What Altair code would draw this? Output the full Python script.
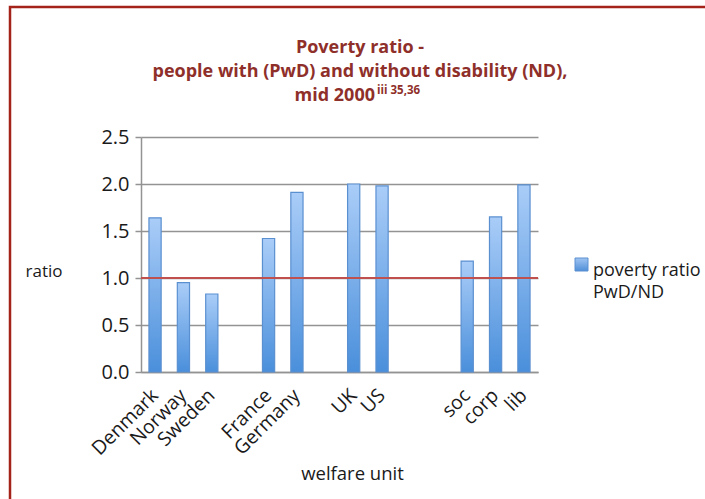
import altair as alt
import pandas as pd

# Welfare units in display order; "gap*" entries are empty slots separating the groups
units = ["Denmark", "Norway", "Sweden", "gap1", "France", "Germany", "gap2",
         "UK", "US", "gap3", "gap4", "soc", "corp", "lib"]
bar_units = ["Denmark", "Norway", "Sweden", "France", "Germany",
             "UK", "US", "soc", "corp", "lib"]
ratios = [1.64, 0.95, 0.83, 1.42, 1.91, 2.00, 1.98, 1.18, 1.65, 1.99]
y_ticks = [0.0, 0.5, 1.0, 1.5, 2.0, 2.5]
reference_level = [1.0]
title_lines = ["Poverty ratio -", "people with (PwD) and without disability (ND),", "mid 2000"]
title_note = "iii 35,36"
legend_lines = ["poverty ratio", "PwD/ND"]

df = pd.DataFrame({"unit": bar_units, "ratio": ratios})
ref = pd.DataFrame({"level": reference_level})

FONT = "Open Sans"
DARK_RED = "#8F2F2A"
W, H = 397, 235
PAD_L, PAD_T = 141, 137
TITLE_CX = 219  # horizontal centre of the title block, relative to the plot

bar_fill = alt.LinearGradient(
    gradient="linear",
    stops=[alt.GradientStop(color="#AACDF8", offset=0),
           alt.GradientStop(color="#4A8FDB", offset=1)],
    x1=0, x2=0, y1=0, y2=1,
)

x_enc = alt.X(
    "unit:N",
    sort=units,
    scale=alt.Scale(domain=units, paddingInner=0.57, paddingOuter=0.28),
    axis=alt.Axis(
        title="welfare unit",
        labelExpr="substring(datum.label, 0, 3) == 'gap' ? '' : datum.label",
        labelAngle=-45, labelAlign="right", labelBaseline="middle",
        labelPadding=20, ticks=False, labelFontSize=19.5,
        domainColor="#939393", domainWidth=1.5,
        titleX=211, titleY=101, titleBaseline="middle",
        titleFontWeight="normal", titleFontSize=18.5,
    ),
)

y_scale = alt.Scale(domain=[0, 2.5], nice=False)

bars = alt.Chart(df).mark_bar(
    fill=bar_fill, stroke="#5B90D0", strokeWidth=1.2
).encode(
    x=x_enc,
    y=alt.Y(
        "ratio:Q", scale=y_scale,
        axis=alt.Axis(
            title="ratio", values=y_ticks, format=".1f",
            titleAngle=0, titleX=-116, titleY=134, titleAlign="left",
            titleBaseline="middle", titleFontWeight="normal", titleFontSize=17,
            tickSize=6, tickColor="#939393", tickWidth=1.5,
            gridColor="#939393", gridWidth=1.5,
            domainColor="#939393", domainWidth=1.5,
            labelPadding=6, labelFontSize=20,
        ),
    ),
)

ref_line = alt.Chart(ref).mark_rule(color="#C0504D", strokeWidth=2).encode(
    y=alt.Y("level:Q", scale=y_scale)
)

# Legend swatch and label
swatch = alt.Chart(ref).mark_rect(
    fill=alt.LinearGradient(
        gradient="linear",
        stops=[alt.GradientStop(color="#9FC4F2", offset=0),
               alt.GradientStop(color="#4F8FD8", offset=1)],
        x1=0, x2=0, y1=0, y2=1,
    ),
    stroke="#5B90D0", strokeWidth=1,
).encode(x=alt.value(434), x2=alt.value(447), y=alt.value(121), y2=alt.value(134))

legend_text = alt.Chart(ref).mark_text(
    text=legend_lines, align="left", baseline="alphabetic",
    font=FONT, fontSize=18, color="#1a1a1a", lineHeight=22,
).encode(x=alt.value(452), y=alt.value(139))

# Title block: three centred lines plus a superscript note
title_marks = []
for line, y in zip(title_lines[:2], [-84, -60]):
    title_marks.append(alt.Chart(ref).mark_text(
        text=line, align="center", baseline="alphabetic",
        font=FONT, fontSize=18, fontWeight="bold", color=DARK_RED,
    ).encode(x=alt.value(TITLE_CX), y=alt.value(y)))

title_marks.append(alt.Chart(ref).mark_text(
    text=title_lines[2], align="right", baseline="alphabetic",
    font=FONT, fontSize=18, fontWeight="bold", color=DARK_RED,
).encode(x=alt.value(234), y=alt.value(-36)))

title_marks.append(alt.Chart(ref).mark_text(
    text=title_note, align="left", baseline="alphabetic",
    font=FONT, fontSize=11.5, fontWeight="bold", color=DARK_RED,
).encode(x=alt.value(236), y=alt.value(-43)))

# Frame around the whole figure
frame = alt.Chart(ref).mark_rect(
    fill=None, stroke="#A3231B", strokeWidth=2.5
).encode(x=alt.value(10 - PAD_L), x2=alt.value(760 - PAD_L),
         y=alt.value(7 - PAD_T), y2=alt.value(560 - PAD_T))

chart = alt.layer(bars, ref_line, swatch, legend_text, *title_marks, frame).properties(
    width=W, height=H,
    padding={"left": PAD_L, "top": PAD_T, "right": 705 - PAD_L - W, "bottom": 499 - PAD_T - H},
    autosize=alt.AutoSizeParams(type="none"),
).configure_view(stroke=None).configure_axis(
    labelFont=FONT, titleFont=FONT,
    labelColor="#1a1a1a", titleColor="#1a1a1a",
)

chart.save("out.html", embed_options={"renderer": "svg", "actions": False})
